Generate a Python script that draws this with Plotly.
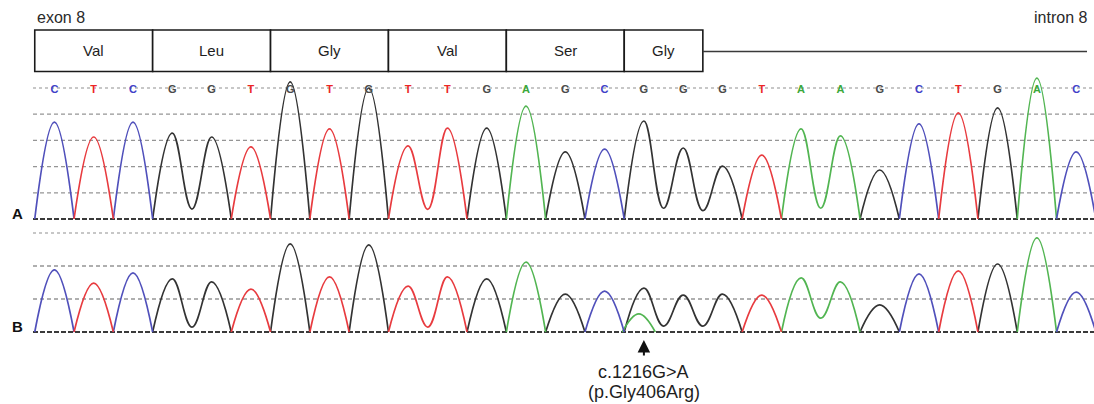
import plotly.graph_objects as go

# ---------------- data ----------------
bases = list("CTCGGTGTGTTGAGCGGGTAAGCTGAC")
# peak heights (in grid-line units) for panel A (reference) and panel B (patient)
peak_A = [3.70, 3.13, 3.70, 3.28, 3.13, 2.75, 5.23, 3.44, 5.00, 2.79, 3.47, 3.47, 4.31, 2.56,
          2.67, 3.74, 2.71, 2.02, 2.44, 3.44, 3.17, 1.87, 3.63, 4.05, 4.24, 5.38, 2.56]
peak_B = [1.88, 1.48, 1.79, 1.61, 1.52, 1.30, 2.67, 1.67, 2.64, 1.39, 1.67, 1.61, 2.12, 1.15,
          1.24, 1.33, 1.12, 1.15, 1.12, 1.64, 1.52, 0.82, 1.76, 1.85, 2.06, 2.85, 1.21]
# valley heights between two neighbouring peaks of the same base (valley after base n)
valley_after = [4, 10, 16, 17, 20]
valley_A = [0.38, 0.37, 0.41, 0.32, 0.41]
valley_B = [0.15, 0.15, 0.18, 0.18, 0.42]
# secondary (mutant) peak in panel B
second_base = ["A"]
second_pos = [15.87]
second_height = [0.55]
# codons
codons = ["Val", "Leu", "Gly", "Val", "Ser", "Gly"]
codon_first = [1, 4, 7, 10, 13, 16]
codon_last = [3, 6, 9, 12, 15, 17]
grid_A = [0, 1, 2, 3, 4, 5]
grid_B = [0, 1, 2, 3]
mutation_base = 16
mutation_text = ["c.1216G>A", "(p.Gly406Arg)"]

# ---------------- layout helpers ----------------
W, H = 1094, 404
ML = 33
PW = W - ML
BASE1_PX = 54.4
PX_PER_BASE = 39.3
x_lo = 1 - (BASE1_PX - ML) / PX_PER_BASE
x_hi = x_lo + PW / PX_PER_BASE


def px_x(px):
    return (px - ML) / PW


def px_y(py):
    return 1 - py / H


def domain(zero_px, px_per_unit, lo, hi):
    return [px_y(zero_px - lo * px_per_unit), px_y(zero_px - hi * px_per_unit)]


rangeA = [-0.15, 5.6]
rangeB = [-0.15, 3.15]
domA = domain(219, 26.2, *rangeA)
domB = domain(332, 33.0, *rangeB)

trace_col = {"A": "#52b552", "C": "#5050bb", "G": "#333333", "T": "#e83b3f"}
letter_col = {"A": "#3aa83a", "C": "#4040c8", "G": "#4a4a4a", "T": "#ec2525"}
FONT = "Liberation Sans, Arial, sans-serif"


def channel_points(heights, valleys, ch):
    vmap = dict(zip(valley_after, valleys))
    xs, ys = [], []
    n = len(bases)
    i = 0
    while i < n:
        if bases[i] != ch:
            i += 1
            continue
        xs.append(i + 0.5)
        ys.append(0)
        j = i
        while True:
            xs.append(j + 1)
            ys.append(heights[j])
            if j + 1 < n and bases[j + 1] == ch:
                xs.append(j + 1.5)
                ys.append(vmap.get(j + 1, 0))
                j += 1
            else:
                break
        xs.append(j + 1.5)
        ys.append(0)
        xs.append(None)
        ys.append(None)
        i = j + 1
    return xs, ys


fig = go.Figure()

for yaxis, heights, valleys in [("y", peak_A, valley_A), ("y2", peak_B, valley_B)]:
    for ch in ["G", "A", "C", "T"]:
        xs, ys = channel_points(heights, valleys, ch)
        if yaxis == "y2":
            for b, p, h in zip(second_base, second_pos, second_height):
                if b == ch:
                    xs += [p - 0.42, p, p + 0.42, None]
                    ys += [0, h, 0, None]
        fig.add_trace(go.Scatter(
            x=xs, y=ys, mode="lines", xaxis="x", yaxis=yaxis,
            line=dict(color=trace_col[ch], width=1.7, shape="spline", smoothing=1.2),
            hoverinfo="skip", showlegend=False))

# base call letters
fig.add_trace(go.Scatter(
    x=list(range(1, len(bases) + 1)), y=[4.92] * len(bases), mode="text",
    text=["<b>%s</b>" % b for b in bases], textposition="middle center",
    textfont=dict(family=FONT, size=11, color=[letter_col[b] for b in bases]),
    xaxis="x", yaxis="y", hoverinfo="skip", showlegend=False))

shapes = []
# grid lines
for yref, levels in [("y", grid_A), ("y2", grid_B)]:
    top = max(levels)
    for lv in levels:
        if lv == 0:
            ln = dict(color="#3a3a3a", width=2, dash="5px,2px")
        elif lv == top:
            ln = dict(color="#b5b5b5", width=1.3, dash="3px,3px")
        else:
            ln = dict(color="#959595", width=1.3, dash="4px,3px")
        shapes.append(dict(type="line", xref="x domain", yref=yref, x0=0, x1=1,
                           y0=lv, y1=lv, line=ln, layer="below"))

# codon boxes
box_top, box_bot = px_y(30), px_y(71.5)
for name, f, l in zip(codons, codon_first, codon_last):
    shapes.append(dict(type="rect", xref="x", yref="paper", x0=f - 0.5, x1=l + 0.5,
                       y0=box_bot, y1=box_top, line=dict(color="#1a1a1a", width=1.6),
                       fillcolor="white", layer="above"))
# intron line
shapes.append(dict(type="line", xref="x", yref="paper", x0=codon_last[-1] + 0.5,
                   x1=x_lo + (1087 - ML) / PX_PER_BASE, y0=px_y(51.5), y1=px_y(51.5),
                   line=dict(color="#3a3a3a", width=1.6)))

annotations = []
for name, f, l in zip(codons, codon_first, codon_last):
    annotations.append(dict(x=(f + l) / 2, xref="x", y=(box_top + box_bot) / 2, yref="paper",
                            text=name, showarrow=False, font=dict(family=FONT, size=15, color="#1e1e1e"),
                            xanchor="center", yanchor="middle"))
annotations += [
    dict(x=px_x(35), y=px_y(17), xref="paper", yref="paper", text="exon 8", showarrow=False,
         xanchor="left", yanchor="middle", font=dict(family=FONT, size=16, color="#2a2a2a")),
    dict(x=px_x(1089), y=px_y(17), xref="paper", yref="paper", text="intron 8", showarrow=False,
         xanchor="right", yanchor="middle", font=dict(family=FONT, size=16, color="#2a2a2a")),
    dict(x=px_x(17), y=px_y(213), xref="paper", yref="paper", text="<b>A</b>", showarrow=False,
         xanchor="center", yanchor="middle", font=dict(family=FONT, size=15, color="#111")),
    dict(x=px_x(17), y=px_y(326), xref="paper", yref="paper", text="<b>B</b>", showarrow=False,
         xanchor="center", yanchor="middle", font=dict(family=FONT, size=15, color="#111")),
    dict(x=mutation_base, xref="x", y=px_y(340), yref="paper", text="", showarrow=True,
         ax=0, ay=17, arrowhead=2, arrowsize=1.25, arrowwidth=2, arrowcolor="#111"),
    dict(x=mutation_base, xref="x", y=px_y(371.5), yref="paper", text=mutation_text[0],
         showarrow=False, xanchor="center", yanchor="middle",
         font=dict(family=FONT, size=18, color="#1e1e1e")),
    dict(x=mutation_base, xref="x", y=px_y(392), yref="paper", text=mutation_text[1],
         showarrow=False, xanchor="center", yanchor="middle",
         font=dict(family=FONT, size=18, color="#1e1e1e")),
]

fig.update_layout(
    width=W, height=H,
    margin=dict(l=ML, r=0, t=0, b=0),
    paper_bgcolor="white", plot_bgcolor="white",
    showlegend=False,
    hovermode=False,
    xaxis=dict(range=[x_lo, x_hi], visible=False, domain=[0, 1], anchor="y", fixedrange=True),
    yaxis=dict(range=rangeA, domain=domA, visible=False, anchor="x", fixedrange=True),
    yaxis2=dict(range=rangeB, domain=domB, visible=False, anchor="x", fixedrange=True),
    shapes=shapes,
    annotations=annotations,
)

fig.write_html("out.html",
               config={"displayModeBar": False, "staticPlot": True},
               post_script="document.body.style.margin='0';document.body.style.overflow='hidden';")
